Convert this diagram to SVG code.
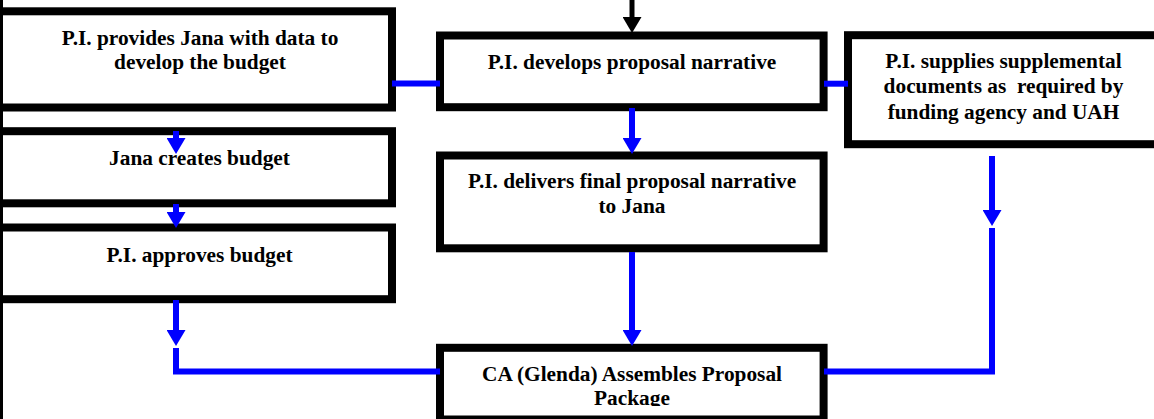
<svg xmlns="http://www.w3.org/2000/svg" width="1154" height="419" viewBox="0 0 1154 419">
<style>
.box{fill:#fff;stroke:#000;stroke-width:8}
.t{font-family:"Liberation Serif","Times New Roman",serif;font-weight:bold;font-size:21.33px;fill:#000;text-anchor:middle}
.c{fill:none;stroke:#0000ff;stroke-width:6}
.k{fill:none;stroke:#000;stroke-width:5}
</style>
<defs>
<marker id="ab" markerUnits="userSpaceOnUse" markerWidth="17" markerHeight="19" viewBox="0 0 17 19" refX="0" refY="9.5" orient="auto">
<path d="M0,0 L16,9.5 L0,19 z" fill="#0000ff"/>
</marker>
<marker id="ak" markerUnits="userSpaceOnUse" markerWidth="17" markerHeight="19" viewBox="0 0 17 19" refX="0" refY="9.5" orient="auto">
<path d="M0,0 L16,9.5 L0,19 z" fill="#000"/>
</marker>
<clipPath id="clipCA"><rect x="443" y="351" width="377" height="55"/></clipPath>
</defs>
<rect x="0" y="0" width="1154" height="419" fill="#fff"/>
<rect x="0" y="0" width="3" height="419" fill="#000"/>

<g id="node-provides-data">
<rect class="box" x="-1" y="11.3" width="393" height="96.2"/>
<text class="t" x="200" y="45">P.I. provides Jana with data to</text>
<text class="t" x="200" y="69">develop the budget</text>
</g>
<g id="node-develops-narrative">
<rect class="box" x="440" y="35.5" width="383.6" height="71.7"/>
<text class="t" x="632" y="69">P.I. develops proposal narrative</text>
</g>
<g id="node-supplies-docs">
<rect class="box" x="848" y="35.2" width="320" height="109"/>
<text class="t" x="1003.5" y="68.3">P.I. supplies supplemental</text>
<text class="t" x="1003.5" y="93.3" xml:space="preserve">documents as  required by</text>
<text class="t" x="1003.5" y="119">funding agency and UAH</text>
</g>
<g id="node-creates-budget">
<rect class="box" x="-1" y="131.2" width="393" height="72.1"/>
<text class="t" x="199.5" y="165">Jana creates budget</text>
</g>
<g id="node-approves-budget">
<rect class="box" x="-1" y="227.5" width="393" height="71.7"/>
<text class="t" x="199.5" y="261.7">P.I. approves budget</text>
</g>
<g id="node-delivers-narrative">
<rect class="box" x="440" y="155.5" width="383.6" height="92.8"/>
<text class="t" x="632" y="188.3">P.I. delivers final proposal narrative</text>
<text class="t" x="632" y="213.3">to Jana</text>
</g>
<g id="node-assembles-package">
<rect class="box" x="440" y="347.8" width="383.6" height="71.7"/>
<g clip-path="url(#clipCA)">
<text class="t" x="632" y="380.5">CA (Glenda) Assembles Proposal</text>
<text class="t" x="632" y="404.5">Package</text>
</g>
</g>

<g id="connectors">
<line class="k" x1="632" y1="0" x2="632" y2="17" marker-end="url(#ak)"/>
<line class="c" x1="392" y1="83.5" x2="440" y2="83.5"/>
<line class="c" x1="824" y1="83.7" x2="848" y2="83.7"/>
<line class="c" x1="176" y1="131" x2="176" y2="138" marker-end="url(#ab)"/>
<line class="c" x1="176" y1="204" x2="176" y2="212" marker-end="url(#ab)"/>
<line class="c" x1="176" y1="300" x2="176" y2="330" marker-end="url(#ab)"/>
<polyline class="c" points="176,348 176,371.5 440,371.5"/>
<line class="c" x1="632" y1="108" x2="632" y2="138" marker-end="url(#ab)"/>
<line class="c" x1="632" y1="252" x2="632" y2="330" marker-end="url(#ab)"/>
<line class="c" x1="992" y1="156" x2="992" y2="210" marker-end="url(#ab)"/>
<polyline class="c" points="992,228 992,371.5 824,371.5"/>
</g>
</svg>
